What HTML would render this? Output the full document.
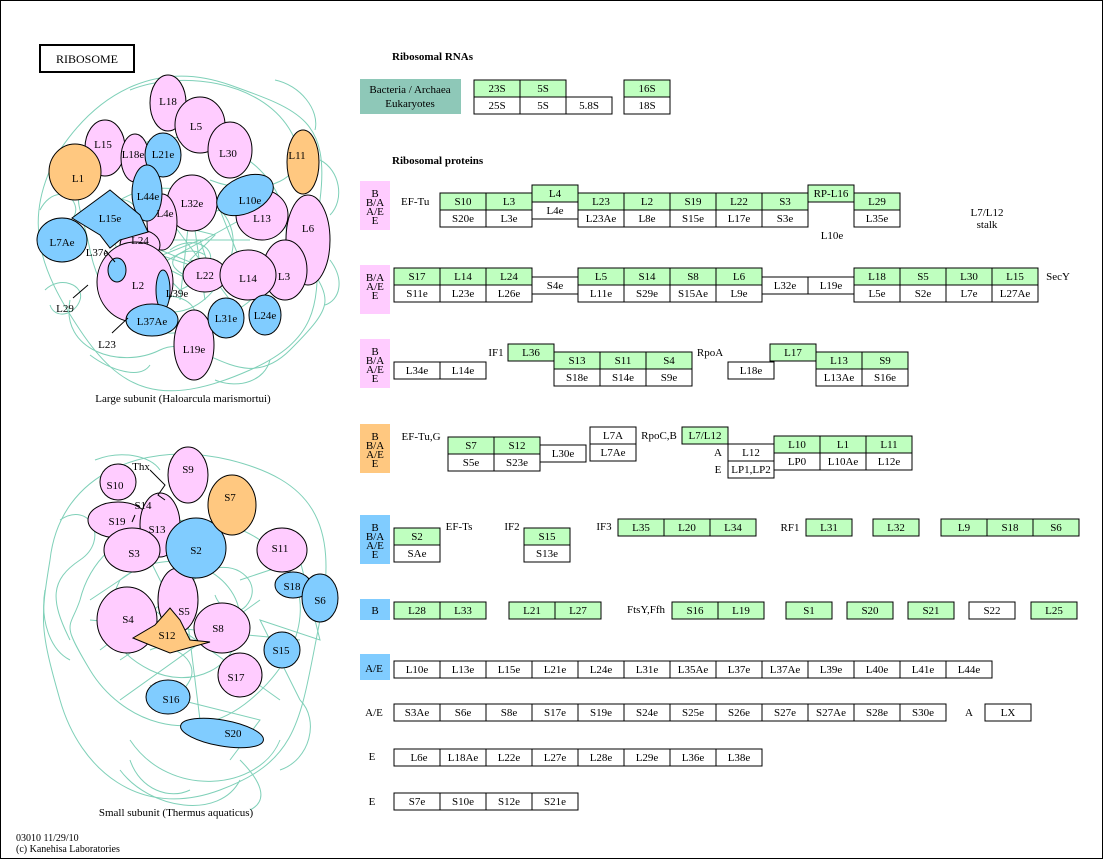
<!DOCTYPE html>
<html><head><meta charset="utf-8"><style>
html,body{margin:0;padding:0;background:#fff}
svg{display:block}
text{font-family:"Liberation Serif",serif;font-size:11px;fill:#000}
.c text,.m{text-anchor:middle}
.g{fill:#bfffbf;stroke:#000;stroke-width:1}
.w{fill:#fff;stroke:#000;stroke-width:1}
.p{fill:#ffccff;stroke:#000}
.b{fill:#80ccff;stroke:#000}
.o{fill:#ffc880;stroke:#000}
.t{fill:none;stroke:#7fd0b8;stroke-width:1}
</style></head><body>
<svg width="1103" height="859" viewBox="0 0 1103 859" xmlns="http://www.w3.org/2000/svg">
<rect x="0.5" y="0.5" width="1102" height="858" fill="#fff" stroke="#000"/>
<rect x="40" y="45" width="94" height="27" fill="#fff" stroke="#000" stroke-width="2"/>
<text x="87" y="63" class="m" style="font-size:12px">RIBOSOME</text>

<!-- teal backgrounds large -->
<g class="t">
<path d="M60 150 C100 90 160 60 230 85 S330 120 320 200 S340 330 250 370 S120 390 80 330 S20 220 60 150Z"/>
<path d="M90 180 C140 120 220 130 260 170 S300 280 220 320 S100 300 90 250 S70 200 90 180Z"/>
<path d="M120 200 C170 170 250 200 230 260 S150 330 130 280 S100 220 120 200Z"/>
<path d="M150 230 L220 210 L240 260 L180 290 L150 260 L200 240 L210 270 L160 250Z"/>
<path d="M70 300 C60 350 120 370 160 350 S240 400 290 350 S330 300 300 250"/>
<path d="M130 90 C180 70 260 80 290 130 S260 200 210 180"/>
<path d="M160 240 L250 240 M170 220 L230 300 M190 210 L180 300 M150 270 L240 220"/>
<path d="M40 210 C50 190 70 190 75 205 S60 230 45 225 M45 290 C60 275 85 285 80 300 S55 320 50 305"/>
<path d="M170 250 C190 235 215 245 210 262 S185 280 175 268 S190 245 205 255 M150 300 C170 290 200 300 195 320"/>
<path d="M330 260 C345 280 340 300 325 305 M320 160 C340 170 345 200 330 215 M275 80 C300 85 320 110 315 130"/>
<path d="M90 355 C110 370 140 380 150 365 M215 380 C240 390 265 380 270 360 M110 200 C130 195 145 210 135 225"/>
<path d="M175 225 L215 235 L190 260 L225 270 L200 285 L170 270 M195 230 L205 300 M160 255 L250 285"/>
</g>
<!-- teal backgrounds small -->
<g class="t">
<path d="M50 560 C60 470 150 440 230 460 S340 520 320 620 S300 760 220 790 S80 770 60 700 S40 620 50 560Z"/>
<path d="M80 600 C100 520 200 500 260 540 S310 650 250 700 S120 720 90 670 S70 630 80 600Z"/>
<path d="M120 580 C170 540 240 570 240 620 S190 690 150 670 S100 620 120 580Z"/>
<path d="M130 740 C170 800 260 790 280 740 M120 770 C150 810 220 820 240 780"/>
<path d="M100 650 L220 560 M120 700 L260 600 M140 600 L280 700 M180 560 L200 720 M90 620 L300 640"/>
<path d="M60 520 C90 500 110 540 80 560 S50 600 70 640"/>
<path d="M95 460 C120 450 150 455 160 470 M45 590 C40 620 50 650 70 660 M300 700 C320 720 310 760 280 770"/>
<path d="M150 650 C170 640 200 660 190 680 S160 700 150 685 M210 570 C235 560 260 580 250 600 S220 610 215 595"/>
<path d="M130 760 C140 790 170 800 190 790 M240 760 C260 780 270 800 250 810 M180 700 L260 720 L230 760"/>
<path d="M240 580 L300 560 L320 640 L260 620 L300 700 M90 600 L150 560 L180 620 L120 660"/>
</g>

<!-- large subunit blobs -->
<g>
<ellipse class="p" cx="168" cy="103" rx="18" ry="28"/>
<ellipse class="p" cx="200" cy="125" rx="25" ry="28"/>
<ellipse class="p" cx="105" cy="148" rx="20" ry="28"/>
<ellipse class="p" cx="135" cy="158" rx="14" ry="24"/>
<ellipse class="p" cx="230" cy="150" rx="22" ry="28"/>
<ellipse class="p" cx="192" cy="203" rx="25" ry="28"/>
<ellipse class="p" cx="262" cy="215" rx="26" ry="25"/>
<ellipse class="p" cx="308" cy="240" rx="22" ry="45"/>
<ellipse class="p" cx="162" cy="222" rx="15" ry="28"/>
<ellipse class="p" cx="140" cy="245" rx="20" ry="15"/>
<ellipse class="p" cx="135" cy="282" rx="38" ry="40"/>
<ellipse class="p" cx="205" cy="275" rx="22" ry="17"/>
<ellipse class="p" cx="285" cy="270" rx="22" ry="30"/>
<ellipse class="p" cx="248" cy="275" rx="28" ry="25"/>
<ellipse class="p" cx="194" cy="345" rx="20" ry="35"/>
<ellipse class="b" cx="163" cy="155" rx="18" ry="22"/>
<ellipse class="b" cx="147" cy="193" rx="15" ry="28"/>
<ellipse class="b" cx="245" cy="195" rx="30" ry="18" transform="rotate(-25 245 195)"/>
<path class="b" d="M72 218 L110 190 L140 215 L148 232 L120 240 L110 248 L100 235 Z"/>
<ellipse class="b" cx="62" cy="240" rx="25" ry="22"/>
<ellipse class="b" cx="117" cy="270" rx="9" ry="12"/>
<ellipse class="b" cx="163" cy="290" rx="7" ry="20"/>
<ellipse class="b" cx="152" cy="320" rx="26" ry="16"/>
<ellipse class="b" cx="226" cy="318" rx="18" ry="20"/>
<ellipse class="b" cx="265" cy="315" rx="16" ry="20"/>
<ellipse class="o" cx="75" cy="172" rx="26" ry="28"/>
<ellipse class="o" cx="303" cy="162" rx="16" ry="32"/>
<path d="M73 298 L88 285 M112 333 L128 318 M105 250 L115 262" stroke="#000" fill="none"/>
</g>
<g class="c">
<text x="168" y="105">L18</text><text x="196" y="130">L5</text><text x="103" y="148">L15</text>
<text x="133" y="158">L18e</text><text x="163" y="158">L21e</text><text x="228" y="157">L30</text>
<text x="297" y="159">L11</text><text x="78" y="182">L1</text><text x="148" y="200">L44e</text>
<text x="250" y="204">L10e</text><text x="192" y="207">L32e</text><text x="110" y="222">L15e</text>
<text x="262" y="222">L13</text><text x="165" y="217">L4e</text><text x="308" y="232">L6</text>
<text x="62" y="246">L7Ae</text><text x="140" y="244">L24</text><text x="97" y="256">L37e</text>
<text x="138" y="289">L2</text><text x="205" y="279">L22</text><text x="248" y="282">L14</text>
<text x="284" y="280">L3</text><text x="177" y="297">L39e</text><text x="65" y="312">L29</text>
<text x="152" y="325">L37Ae</text><text x="226" y="322">L31e</text><text x="265" y="319">L24e</text>
<text x="107" y="348">L23</text><text x="194" y="353">L19e</text>
<text x="183" y="402">Large subunit (Haloarcula marismortui)</text>
</g>

<!-- small subunit blobs -->
<g>
<ellipse class="p" cx="188" cy="475" rx="20" ry="28"/>
<ellipse class="p" cx="118" cy="482" rx="18" ry="18"/>
<ellipse class="p" cx="118" cy="520" rx="30" ry="18"/>
<ellipse class="p" cx="160" cy="525" rx="20" ry="32"/>
<ellipse class="p" cx="132" cy="550" rx="28" ry="22"/>
<ellipse class="p" cx="282" cy="550" rx="25" ry="22"/>
<ellipse class="p" cx="178" cy="600" rx="20" ry="32"/>
<ellipse class="p" cx="127" cy="620" rx="30" ry="33"/>
<ellipse class="p" cx="222" cy="628" rx="28" ry="25"/>
<ellipse class="p" cx="240" cy="675" rx="22" ry="22"/>
<ellipse class="b" cx="196" cy="548" rx="30" ry="30"/>
<ellipse class="b" cx="293" cy="585" rx="18" ry="13"/>
<ellipse class="b" cx="320" cy="598" rx="18" ry="24"/>
<ellipse class="b" cx="282" cy="650" rx="18" ry="18"/>
<ellipse class="b" cx="168" cy="697" rx="22" ry="17"/>
<ellipse class="b" cx="222" cy="733" rx="42" ry="13" transform="rotate(10 222 733)"/>
<ellipse class="o" cx="232" cy="505" rx="24" ry="30"/>
<path class="o" d="M133 638 L155 625 L170 608 L180 620 L190 640 L210 642 L170 653 L150 645 Z"/>
<path d="M150 470 L165 485 L158 495 L165 500 M135 515 L132 522" stroke="#000" fill="none"/>
</g>
<g class="c">
<text x="188" y="473">S9</text><text x="115" y="489">S10</text><text x="141" y="470">Thx</text>
<text x="230" y="501">S7</text><text x="143" y="509">S14</text><text x="117" y="525">S19</text>
<text x="157" y="533">S13</text><text x="196" y="554">S2</text><text x="134" y="557">S3</text>
<text x="280" y="552">S11</text><text x="292" y="590">S18</text><text x="320" y="604">S6</text>
<text x="184" y="615">S5</text><text x="128" y="623">S4</text><text x="167" y="639">S12</text>
<text x="218" y="632">S8</text><text x="281" y="654">S15</text><text x="236" y="681">S17</text>
<text x="171" y="703">S16</text><text x="233" y="737">S20</text>
<text x="176" y="816">Small subunit (Thermus aquaticus)</text>
</g>
<text x="16" y="841" style="font-size:10px">03010 11/29/10</text>
<text x="16" y="852" style="font-size:10px">(c) Kanehisa Laboratories</text>

<!-- right side -->
<text x="392" y="60" style="font-weight:bold;font-size:11px">Ribosomal RNAs</text>
<text x="392" y="164" style="font-weight:bold;font-size:11px">Ribosomal proteins</text>
<rect x="360" y="79" width="101" height="35" fill="#8ec8b8"/>
<text x="410" y="93" class="m">Bacteria / Archaea</text>
<text x="410" y="107" class="m">Eukaryotes</text>

<g class="c">
<rect class="g" x="474" y="80" width="46" height="17"/><text x="497" y="92">23S</text>
<rect class="g" x="520" y="80" width="46" height="17"/><text x="543" y="92">5S</text>
<rect class="w" x="474" y="97" width="46" height="17"/><text x="497" y="109">25S</text>
<rect class="w" x="520" y="97" width="46" height="17"/><text x="543" y="109">5S</text>
<rect class="w" x="566" y="97" width="46" height="17"/><text x="589" y="109">5.8S</text>
<rect class="g" x="624" y="80" width="46" height="17"/><text x="647" y="92">16S</text>
<rect class="w" x="624" y="97" width="46" height="17"/><text x="647" y="109">18S</text>
</g>

<rect x="360" y="181" width="30" height="49" fill="#ffccff"/>
<rect x="360" y="265" width="30" height="49" fill="#ffccff"/>
<rect x="360" y="339" width="30" height="49" fill="#ffccff"/>
<rect x="360" y="424" width="30" height="49" fill="#ffc880"/>
<rect x="360" y="515" width="30" height="49" fill="#80ccff"/>
<rect x="360" y="599" width="30" height="21" fill="#80ccff"/>
<rect x="360" y="654" width="30" height="26" fill="#80ccff"/>
<g class="c">
<text x="375" y="197">B</text><text x="375" y="206">B/A</text><text x="375" y="215">A/E</text><text x="375" y="224">E</text>
<text x="375" y="281">B/A</text><text x="375" y="290">A/E</text><text x="375" y="299">E</text>
<text x="375" y="355">B</text><text x="375" y="364">B/A</text><text x="375" y="373">A/E</text><text x="375" y="382">E</text>
<text x="375" y="440">B</text><text x="375" y="449">B/A</text><text x="375" y="458">A/E</text><text x="375" y="467">E</text>
<text x="375" y="531">B</text><text x="375" y="540">B/A</text><text x="375" y="549">A/E</text><text x="375" y="558">E</text>
<text x="375" y="614">B</text>
<text x="374" y="672">A/E</text>
<text x="374" y="716">A/E</text>
<text x="372" y="760">E</text>
<text x="372" y="805">E</text>
</g>

<text x="401" y="205">EF-Tu</text>
<g class="c">
<rect class="g" x="440" y="193" width="46" height="17"/><text x="463" y="205">S10</text>
<rect class="g" x="486" y="193" width="46" height="17"/><text x="509" y="205">L3</text>
<rect class="g" x="532" y="185" width="46" height="17"/><text x="555" y="197">L4</text>
<rect class="g" x="578" y="193" width="46" height="17"/><text x="601" y="205">L23</text>
<rect class="g" x="624" y="193" width="46" height="17"/><text x="647" y="205">L2</text>
<rect class="g" x="670" y="193" width="46" height="17"/><text x="693" y="205">S19</text>
<rect class="g" x="716" y="193" width="46" height="17"/><text x="739" y="205">L22</text>
<rect class="g" x="762" y="193" width="46" height="17"/><text x="785" y="205">S3</text>
<rect class="g" x="808" y="185" width="46" height="17"/><text x="831" y="197">RP-L16</text>
<rect class="g" x="854" y="193" width="46" height="17"/><text x="877" y="205">L29</text>
<rect class="w" x="440" y="210" width="46" height="17"/><text x="463" y="222">S20e</text>
<rect class="w" x="486" y="210" width="46" height="17"/><text x="509" y="222">L3e</text>
<rect class="w" x="532" y="202" width="46" height="17"/><text x="555" y="214">L4e</text>
<rect class="w" x="578" y="210" width="46" height="17"/><text x="601" y="222">L23Ae</text>
<rect class="w" x="624" y="210" width="46" height="17"/><text x="647" y="222">L8e</text>
<rect class="w" x="670" y="210" width="46" height="17"/><text x="693" y="222">S15e</text>
<rect class="w" x="716" y="210" width="46" height="17"/><text x="739" y="222">L17e</text>
<rect class="w" x="762" y="210" width="46" height="17"/><text x="785" y="222">S3e</text>
<rect class="w" x="854" y="210" width="46" height="17"/><text x="877" y="222">L35e</text>
<text x="832" y="239">L10e</text>
<text x="987" y="216">L7/L12</text><text x="987" y="228">stalk</text>

<rect class="g" x="394" y="268" width="46" height="17"/><text x="417" y="280">S17</text>
<rect class="g" x="440" y="268" width="46" height="17"/><text x="463" y="280">L14</text>
<rect class="g" x="486" y="268" width="46" height="17"/><text x="509" y="280">L24</text>
<rect class="w" x="532" y="277" width="46" height="17"/><text x="555" y="289">S4e</text>
<rect class="g" x="578" y="268" width="46" height="17"/><text x="601" y="280">L5</text>
<rect class="g" x="624" y="268" width="46" height="17"/><text x="647" y="280">S14</text>
<rect class="g" x="670" y="268" width="46" height="17"/><text x="693" y="280">S8</text>
<rect class="g" x="716" y="268" width="46" height="17"/><text x="739" y="280">L6</text>
<rect class="w" x="762" y="277" width="46" height="17"/><text x="785" y="289">L32e</text>
<rect class="w" x="808" y="277" width="46" height="17"/><text x="831" y="289">L19e</text>
<rect class="g" x="854" y="268" width="46" height="17"/><text x="877" y="280">L18</text>
<rect class="g" x="900" y="268" width="46" height="17"/><text x="923" y="280">S5</text>
<rect class="g" x="946" y="268" width="46" height="17"/><text x="969" y="280">L30</text>
<rect class="g" x="992" y="268" width="46" height="17"/><text x="1015" y="280">L15</text>
<rect class="w" x="394" y="285" width="46" height="17"/><text x="417" y="297">S11e</text>
<rect class="w" x="440" y="285" width="46" height="17"/><text x="463" y="297">L23e</text>
<rect class="w" x="486" y="285" width="46" height="17"/><text x="509" y="297">L26e</text>
<rect class="w" x="578" y="285" width="46" height="17"/><text x="601" y="297">L11e</text>
<rect class="w" x="624" y="285" width="46" height="17"/><text x="647" y="297">S29e</text>
<rect class="w" x="670" y="285" width="46" height="17"/><text x="693" y="297">S15Ae</text>
<rect class="w" x="716" y="285" width="46" height="17"/><text x="739" y="297">L9e</text>
<rect class="w" x="854" y="285" width="46" height="17"/><text x="877" y="297">L5e</text>
<rect class="w" x="900" y="285" width="46" height="17"/><text x="923" y="297">S2e</text>
<rect class="w" x="946" y="285" width="46" height="17"/><text x="969" y="297">L7e</text>
<rect class="w" x="992" y="285" width="46" height="17"/><text x="1015" y="297">L27Ae</text>
<text x="1058" y="280">SecY</text>

<rect class="w" x="394" y="362" width="46" height="17"/><text x="417" y="374">L34e</text>
<rect class="w" x="440" y="362" width="46" height="17"/><text x="463" y="374">L14e</text>
<text x="496" y="356">IF1</text>
<rect class="g" x="508" y="344" width="46" height="17"/><text x="531" y="356">L36</text>
<rect class="g" x="554" y="352" width="46" height="17"/><text x="577" y="364">S13</text>
<rect class="g" x="600" y="352" width="46" height="17"/><text x="623" y="364">S11</text>
<rect class="g" x="646" y="352" width="46" height="17"/><text x="669" y="364">S4</text>
<rect class="w" x="554" y="369" width="46" height="17"/><text x="577" y="381">S18e</text>
<rect class="w" x="600" y="369" width="46" height="17"/><text x="623" y="381">S14e</text>
<rect class="w" x="646" y="369" width="46" height="17"/><text x="669" y="381">S9e</text>
<text x="710" y="356">RpoA</text>
<rect class="w" x="728" y="362" width="46" height="17"/><text x="751" y="374">L18e</text>
<rect class="g" x="770" y="344" width="46" height="17"/><text x="793" y="356">L17</text>
<rect class="g" x="816" y="352" width="46" height="17"/><text x="839" y="364">L13</text>
<rect class="g" x="862" y="352" width="46" height="17"/><text x="885" y="364">S9</text>
<rect class="w" x="816" y="369" width="46" height="17"/><text x="839" y="381">L13Ae</text>
<rect class="w" x="862" y="369" width="46" height="17"/><text x="885" y="381">S16e</text>

<text x="421" y="440">EF-Tu,G</text>
<rect class="g" x="448" y="437" width="46" height="17"/><text x="471" y="449">S7</text>
<rect class="g" x="494" y="437" width="46" height="17"/><text x="517" y="449">S12</text>
<rect class="w" x="448" y="454" width="46" height="17"/><text x="471" y="466">S5e</text>
<rect class="w" x="494" y="454" width="46" height="17"/><text x="517" y="466">S23e</text>
<rect class="w" x="540" y="445" width="46" height="17"/><text x="563" y="457">L30e</text>
<rect class="w" x="590" y="427" width="46" height="17"/><text x="613" y="439">L7A</text>
<rect class="w" x="590" y="444" width="46" height="17"/><text x="613" y="456">L7Ae</text>
<text x="659" y="439">RpoC,B</text>
<rect class="g" x="682" y="427" width="46" height="17"/><text x="705" y="439">L7/L12</text>
<text x="718" y="456">A</text><text x="718" y="473">E</text>
<rect class="w" x="728" y="444" width="46" height="17"/><text x="751" y="456">L12</text>
<rect class="w" x="728" y="461" width="46" height="17"/><text x="751" y="473">LP1,LP2</text>
<rect class="g" x="774" y="436" width="46" height="17"/><text x="797" y="448">L10</text>
<rect class="g" x="820" y="436" width="46" height="17"/><text x="843" y="448">L1</text>
<rect class="g" x="866" y="436" width="46" height="17"/><text x="889" y="448">L11</text>
<rect class="w" x="774" y="453" width="46" height="17"/><text x="797" y="465">LP0</text>
<rect class="w" x="820" y="453" width="46" height="17"/><text x="843" y="465">L10Ae</text>
<rect class="w" x="866" y="453" width="46" height="17"/><text x="889" y="465">L12e</text>

<rect class="g" x="394" y="528" width="46" height="17"/><text x="417" y="540">S2</text>
<rect class="w" x="394" y="545" width="46" height="17"/><text x="417" y="557">SAe</text>
<text x="459" y="530">EF-Ts</text>
<text x="512" y="530">IF2</text>
<rect class="g" x="524" y="528" width="46" height="17"/><text x="547" y="540">S15</text>
<rect class="w" x="524" y="545" width="46" height="17"/><text x="547" y="557">S13e</text>
<text x="604" y="530">IF3</text>
<rect class="g" x="618" y="519" width="46" height="17"/><text x="641" y="531">L35</text>
<rect class="g" x="664" y="519" width="46" height="17"/><text x="687" y="531">L20</text>
<rect class="g" x="710" y="519" width="46" height="17"/><text x="733" y="531">L34</text>
<text x="790" y="531">RF1</text>
<rect class="g" x="806" y="519" width="46" height="17"/><text x="829" y="531">L31</text>
<rect class="g" x="873" y="519" width="46" height="17"/><text x="896" y="531">L32</text>
<rect class="g" x="941" y="519" width="46" height="17"/><text x="964" y="531">L9</text>
<rect class="g" x="987" y="519" width="46" height="17"/><text x="1010" y="531">S18</text>
<rect class="g" x="1033" y="519" width="46" height="17"/><text x="1056" y="531">S6</text>

<rect class="g" x="394" y="602" width="46" height="17"/><text x="417" y="614">L28</text>
<rect class="g" x="440" y="602" width="46" height="17"/><text x="463" y="614">L33</text>
<rect class="g" x="509" y="602" width="46" height="17"/><text x="532" y="614">L21</text>
<rect class="g" x="555" y="602" width="46" height="17"/><text x="578" y="614">L27</text>
<text x="646" y="613">FtsY,Ffh</text>
<rect class="g" x="672" y="602" width="46" height="17"/><text x="695" y="614">S16</text>
<rect class="g" x="718" y="602" width="46" height="17"/><text x="741" y="614">L19</text>
<rect class="g" x="786" y="602" width="46" height="17"/><text x="809" y="614">S1</text>
<rect class="g" x="847" y="602" width="46" height="17"/><text x="870" y="614">S20</text>
<rect class="g" x="908" y="602" width="46" height="17"/><text x="931" y="614">S21</text>
<rect class="w" x="969" y="602" width="46" height="17"/><text x="992" y="614">S22</text>
<rect class="g" x="1031" y="602" width="46" height="17"/><text x="1054" y="614">L25</text>

<rect class="w" x="394" y="661" width="46" height="17"/><text x="417" y="673">L10e</text>
<rect class="w" x="440" y="661" width="46" height="17"/><text x="463" y="673">L13e</text>
<rect class="w" x="486" y="661" width="46" height="17"/><text x="509" y="673">L15e</text>
<rect class="w" x="532" y="661" width="46" height="17"/><text x="555" y="673">L21e</text>
<rect class="w" x="578" y="661" width="46" height="17"/><text x="601" y="673">L24e</text>
<rect class="w" x="624" y="661" width="46" height="17"/><text x="647" y="673">L31e</text>
<rect class="w" x="670" y="661" width="46" height="17"/><text x="693" y="673">L35Ae</text>
<rect class="w" x="716" y="661" width="46" height="17"/><text x="739" y="673">L37e</text>
<rect class="w" x="762" y="661" width="46" height="17"/><text x="785" y="673">L37Ae</text>
<rect class="w" x="808" y="661" width="46" height="17"/><text x="831" y="673">L39e</text>
<rect class="w" x="854" y="661" width="46" height="17"/><text x="877" y="673">L40e</text>
<rect class="w" x="900" y="661" width="46" height="17"/><text x="923" y="673">L41e</text>
<rect class="w" x="946" y="661" width="46" height="17"/><text x="969" y="673">L44e</text>

<rect class="w" x="394" y="704" width="46" height="17"/><text x="417" y="716">S3Ae</text>
<rect class="w" x="440" y="704" width="46" height="17"/><text x="463" y="716">S6e</text>
<rect class="w" x="486" y="704" width="46" height="17"/><text x="509" y="716">S8e</text>
<rect class="w" x="532" y="704" width="46" height="17"/><text x="555" y="716">S17e</text>
<rect class="w" x="578" y="704" width="46" height="17"/><text x="601" y="716">S19e</text>
<rect class="w" x="624" y="704" width="46" height="17"/><text x="647" y="716">S24e</text>
<rect class="w" x="670" y="704" width="46" height="17"/><text x="693" y="716">S25e</text>
<rect class="w" x="716" y="704" width="46" height="17"/><text x="739" y="716">S26e</text>
<rect class="w" x="762" y="704" width="46" height="17"/><text x="785" y="716">S27e</text>
<rect class="w" x="808" y="704" width="46" height="17"/><text x="831" y="716">S27Ae</text>
<rect class="w" x="854" y="704" width="46" height="17"/><text x="877" y="716">S28e</text>
<rect class="w" x="900" y="704" width="46" height="17"/><text x="923" y="716">S30e</text>
<text x="969" y="716">A</text>
<rect class="w" x="985" y="704" width="46" height="17"/><text x="1008" y="716">LX</text>

<rect class="w" x="394" y="749" width="46" height="17"/><text x="419" y="761">L6e</text>
<rect class="w" x="440" y="749" width="46" height="17"/><text x="463" y="761">L18Ae</text>
<rect class="w" x="486" y="749" width="46" height="17"/><text x="509" y="761">L22e</text>
<rect class="w" x="532" y="749" width="46" height="17"/><text x="555" y="761">L27e</text>
<rect class="w" x="578" y="749" width="46" height="17"/><text x="601" y="761">L28e</text>
<rect class="w" x="624" y="749" width="46" height="17"/><text x="647" y="761">L29e</text>
<rect class="w" x="670" y="749" width="46" height="17"/><text x="693" y="761">L36e</text>
<rect class="w" x="716" y="749" width="46" height="17"/><text x="739" y="761">L38e</text>

<rect class="w" x="394" y="793" width="46" height="17"/><text x="417" y="805">S7e</text>
<rect class="w" x="440" y="793" width="46" height="17"/><text x="463" y="805">S10e</text>
<rect class="w" x="486" y="793" width="46" height="17"/><text x="509" y="805">S12e</text>
<rect class="w" x="532" y="793" width="46" height="17"/><text x="555" y="805">S21e</text>
</g>
</svg>
</body></html>
